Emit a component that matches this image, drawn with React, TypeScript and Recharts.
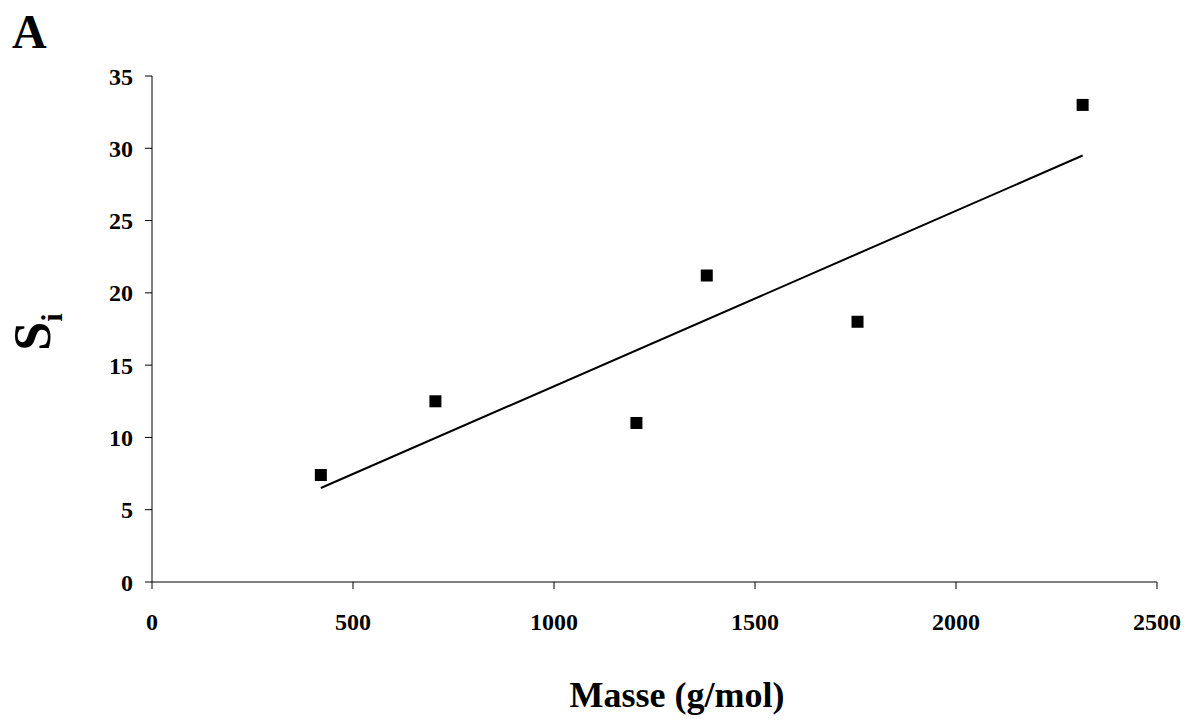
import React from 'react';
import { ScatterChart, Scatter, XAxis, YAxis } from 'recharts';

const masse: number[] = [420, 705, 1205, 1380, 1755, 2315];
const si: number[] = [7.4, 12.5, 11.0, 21.2, 18.0, 33.0];

// end points of the fitted line
const trendX: number[] = [420, 2315];
const trendY: number[] = [6.5, 29.5];

const xTicks: number[] = [0, 500, 1000, 1500, 2000, 2500];
const yTicks: number[] = [0, 5, 10, 15, 20, 25, 30, 35];

const points = masse.map((m, i) => ({ x: m, y: si[i] }));
const trend = trendX.map((m, i) => ({ x: m, y: trendY[i] }));

const FONT = '"Liberation Serif", "Times New Roman", serif';

const tickStyle = { fontFamily: FONT, fontSize: 24, fontWeight: 700, fill: '#000' };

// 12px filled square centred on the point
const SquareMark = (props: any) => {
    const { cx, cy } = props;
    if (cx == null || cy == null) return <g />;
    return <rect x={cx - 6} y={cy - 6} width={12} height={12} fill="#000" />;
};

const App: React.FC = () => {
    return (
        <div style={{ position: 'absolute', left: 0, top: 0, background: '#fff' }}>
            <ScatterChart width={1186} height={720} margin={{ top: 76, right: 29, bottom: 78, left: 92 }}>
                <XAxis
                    type="number"
                    dataKey="x"
                    domain={[0, 2500]}
                    ticks={xTicks}
                    height={60}
                    tickSize={7}
                    tickMargin={24}
                    stroke="#000"
                    tick={tickStyle}
                    allowDataOverflow
                />
                <YAxis
                    type="number"
                    dataKey="y"
                    domain={[0, 35]}
                    ticks={yTicks}
                    width={60}
                    tickSize={7}
                    tickMargin={12}
                    stroke="#000"
                    tick={tickStyle}
                    allowDataOverflow
                />
                <Scatter
                    data={trend}
                    line={{ stroke: '#000', strokeWidth: 2 }}
                    shape={() => <g />}
                    isAnimationActive={false}
                />
                <Scatter data={points} shape={SquareMark} fill="#000" isAnimationActive={false} />
                <text x={12} y={48} fontFamily={FONT} fontSize={48} fontWeight={700} fill="#000">A</text>
                <text
                    x={50}
                    y={332}
                    transform="rotate(-90, 50, 332)"
                    textAnchor="middle"
                    fontFamily={FONT}
                    fontSize={52}
                    fontWeight={700}
                    fill="#000"
                >
                    S<tspan fontSize={30} dy={12}>i</tspan>
                </text>
                <text x={677} y={707} textAnchor="middle" fontFamily={FONT} fontSize={36} fontWeight={700} fill="#000">
                    Masse (g/mol)
                </text>
            </ScatterChart>
        </div>
    );
};

export default App;
